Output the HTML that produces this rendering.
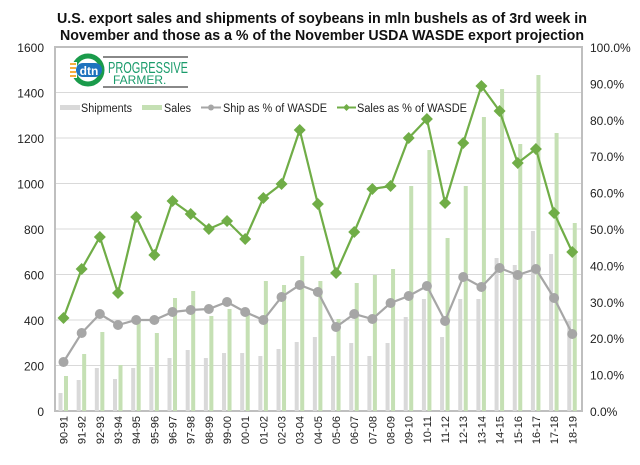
<!DOCTYPE html>
<html><head><meta charset="utf-8"><style>
body{margin:0;background:#fff;width:640px;height:460px;overflow:hidden}
text{font-family:"Liberation Sans",Arial,sans-serif}
</style></head><body>
<svg id="s" width="640" height="460" xmlns="http://www.w3.org/2000/svg">
<rect width="640" height="460" fill="#fff"/>
<text x="322" y="23" text-anchor="middle" font-size="14.5" font-weight="bold" fill="#111" textLength="530" lengthAdjust="spacingAndGlyphs">U.S. export sales and shipments of soybeans in mln bushels as of 3rd week in</text>
<text x="322" y="40" text-anchor="middle" font-size="14.5" font-weight="bold" fill="#111" textLength="524" lengthAdjust="spacingAndGlyphs">November and those as a %  of the November USDA WASDE  export projection</text>
<g id="g"></g>
</svg>
<script>
var g=document.getElementById('g'),h='';
var L=55,R=582,T=47,B=411;
var lv=[0,200,400,600,800,1000,1200,1400,1600];
lv.forEach(function(v){var y=B-(B-T)*v/1600;
 if(v>0&&v<1600)h+='<line x1="'+L+'" x2="'+R+'" y1="'+y+'" y2="'+y+'" stroke="#d9d9d9" stroke-width="1"/>';
 h+='<text x="44" y="'+(y+5)+'" text-anchor="end" font-size="12" fill="#222">'+v+'</text>';});
for(var i=0;i<=10;i++){var y=B-(B-T)*i/10;h+='<text x="590" y="'+(y+5)+'" font-size="12" fill="#222">'+i*10+'.0%</text>';}
h+='<rect x="'+L+'" y="'+T+'" width="'+(R-L)+'" height="'+(B-T)+'" fill="none" stroke="#bfbfbf" stroke-width="2"/>';
var labs=[];for(var k=90;k<119;k++){var a=k%100,b=(k+1)%100;labs.push((a<10?'0':'')+a+'-'+(b<10?'0':'')+b);}
var ship=[393,380,368,379,368,367,358,350,358,353,353,356,349,342,337,356,343,356,343,317,299,337,299,299,258,265,231,254,321];
var sale=[376,354,332,365,320,333,298,291,316,309,314,281,285,256,281,319,283,275,269,186,150,238,186,117,89,144,75,133,223];
var sp=[362,333,314,325,320,320,312,310,309,302,312,320,297,285,292,327,314,319,303,296,286,321,277,287,268,275,269,298,334];
var sa=[318,269,237,293,217,255,201,214,229,221,239,198,184,130,204,273,232,189,186,138,119,203,143,86,111,163,149,213,252];
function cx(i){return 63.5+18.17*i;}
for(var i=0;i<29;i++){var c=cx(i);
 h+='<rect x="'+(c-5)+'" y="'+ship[i]+'" width="4" height="'+(B-ship[i])+'" fill="#d9d9d9"/>';
 h+='<rect x="'+(c+0.5)+'" y="'+sale[i]+'" width="4" height="'+(B-sale[i])+'" fill="#c5e0b4"/>';
 h+='<text transform="translate('+(c+4)+',416) rotate(-90)" text-anchor="end" font-size="11" fill="#222">'+labs[i]+'</text>';}
var p1='',p2='';for(var i=0;i<29;i++){p1+=cx(i)+','+sp[i]+' ';p2+=cx(i)+','+sa[i]+' ';}
h+='<polyline points="'+p1+'" fill="none" stroke="#a6a6a6" stroke-width="2.2"/>';
for(var i=0;i<29;i++)h+='<circle cx="'+cx(i)+'" cy="'+sp[i]+'" r="5" fill="#a6a6a6"/>';
h+='<polyline points="'+p2+'" fill="none" stroke="#70ad47" stroke-width="2.2"/>';
for(var i=0;i<29;i++){var c=cx(i),y=sa[i];h+='<polygon points="'+c+','+(y-6)+' '+(c+6)+','+y+' '+c+','+(y+6)+' '+(c-6)+','+y+'" fill="#70ad47"/>';}
// legend
h+='<rect x="60" y="105" width="20" height="5" fill="#d9d9d9"/><text x="81" y="112" font-size="11.5" fill="#222" textLength="51" lengthAdjust="spacingAndGlyphs">Shipments</text>';
h+='<rect x="142" y="105" width="20" height="5" fill="#c5e0b4"/><text x="164" y="112" font-size="11.5" fill="#222" textLength="27" lengthAdjust="spacingAndGlyphs">Sales</text>';
h+='<line x1="201" x2="221" y1="107.5" y2="107.5" stroke="#a6a6a6" stroke-width="2"/><circle cx="211" cy="107.5" r="3" fill="#a6a6a6"/><text x="223" y="112" font-size="11.5" fill="#222" textLength="104" lengthAdjust="spacingAndGlyphs">Ship as % of WASDE</text>';
h+='<line x1="337" x2="356" y1="107.5" y2="107.5" stroke="#70ad47" stroke-width="2"/><polygon points="346.5,104 350,107.5 346.5,111 343,107.5" fill="#70ad47"/><text x="357" y="112" font-size="11.5" fill="#222" textLength="110" lengthAdjust="spacingAndGlyphs">Sales as % of WASDE</text>';
// logo
h+='<circle cx="88" cy="70" r="14" fill="none" stroke="#1a9b4b" stroke-width="5"/>';
h+='<rect x="71" y="62" width="6" height="16" fill="#fff"/><line x1="70" x2="76" y1="64" y2="64" stroke="#f39200" stroke-width="1.5"/><line x1="70" x2="76" y1="68" y2="68" stroke="#f39200" stroke-width="1.5"/><line x1="70" x2="76" y1="72" y2="72" stroke="#f39200" stroke-width="1.5"/><line x1="70" x2="76" y1="76" y2="76" stroke="#f39200" stroke-width="1.5"/>';
h+='<rect x="76" y="63" width="26" height="14" rx="7" fill="#1e73be"/><text x="89" y="75" text-anchor="middle" font-size="12" font-weight="bold" fill="#fff">dtn</text>';
h+='<line x1="103" x2="188" y1="57" y2="57" stroke="#111" stroke-width="1"/><line x1="103" x2="188" y1="87" y2="87" stroke="#111" stroke-width="1"/>';
h+='<text x="108" y="73" font-family="Liberation Serif" font-size="16" fill="#1a9b6b" textLength="80" lengthAdjust="spacingAndGlyphs">PROGRESSIVE</text>';
h+='<text x="113" y="84" font-family="Liberation Serif" font-size="12" fill="#1a9b6b">FARMER.</text>';
g.innerHTML=h;
</script>
</body></html>
